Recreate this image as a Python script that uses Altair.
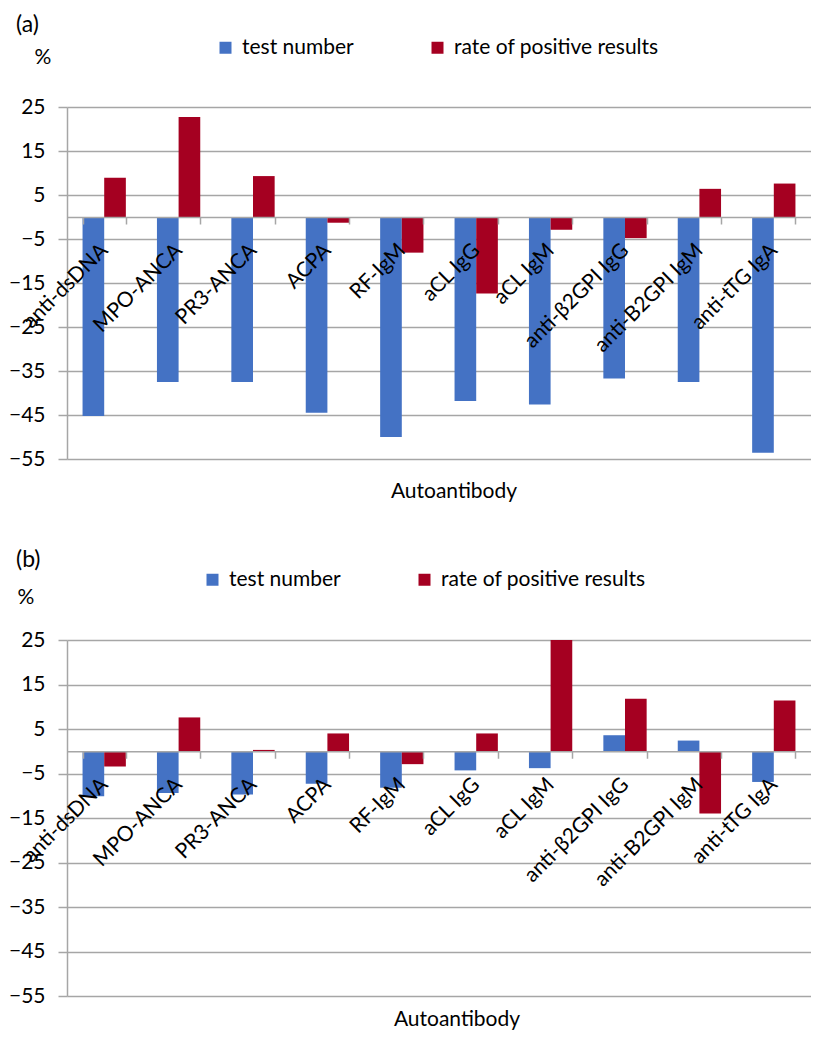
import altair as alt
import pandas as pd

categories = ["anti-dsDNA", "MPO-ANCA", "PR3-ANCA", "ACPA", "RF-IgM", "aCL IgG",
              "aCL IgM", "anti-β2GPI IgG", "anti-B2GPI IgM", "anti-tTG IgA"]
series_names = ["test number", "rate of positive results"]

a_test = [-45.2, -37.5, -37.5, -44.5, -50.0, -41.8, -42.6, -36.7, -37.5, -53.6]
a_rate = [8.9, 22.7, 9.3, -1.3, -8.1, -17.4, -2.9, -4.8, 6.4, 7.6]
b_test = [-10.1, -9.4, -9.7, -7.3, -8.2, -4.3, -3.8, 3.6, 2.4, -6.9]
b_rate = [-3.4, 7.6, 0.3, 4.0, -2.9, 4.0, 25.0, 11.8, -14.0, 11.4]

y_ticks = [-55, -45, -35, -25, -15, -5, 5, 15, 25]
colors = ["#4472C4", "#A50021"]
FONT = "Lato"
GRAY = "#A6A6A6"
FS = 21


def panel(test, rate, tag, width, height, extent, tag_x, tag_y, pct_x, pct_y,
          title_x, title_y, leg_x, leg_y):
    rows = []
    for c, t, r in zip(categories, test, rate):
        rows.append({"category": c, "series": series_names[0], "value": t})
        rows.append({"category": c, "series": series_names[1], "value": r})
    df = pd.DataFrame(rows)
    zero_px = height * 25 / 80.0

    bars = alt.Chart(df).mark_bar().encode(
        x=alt.X("category:N", sort=categories,
                scale=alt.Scale(paddingInner=0.418, paddingOuter=0.209),
                axis=alt.Axis(title=None, orient="bottom", offset=-(height - zero_px),
                              domainColor=GRAY, domainWidth=1.5, tickColor=GRAY,
                              tickWidth=1.5, tickSize=7, tickBand="extent",
                              labelAngle=-45, labelAlign="right", labelBaseline="middle",
                              labelPadding=23, labelFontSize=FS, labelFont=FONT,
                              labelColor="black", labelLimit=400, zindex=1, grid=False)),
        xOffset=alt.XOffset("series:N", sort=series_names,
                            scale=alt.Scale(paddingInner=0, paddingOuter=0)),
        y=alt.Y("value:Q",
                scale=alt.Scale(domain=[-55, 25], nice=False, zero=False),
                axis=alt.Axis(title=None, values=y_ticks, labelFontSize=FS,
                              labelFont=FONT, labelColor="black", labelPadding=13,
                              tickSize=9, tickColor=GRAY, tickWidth=1.5,
                              domainColor=GRAY, domainWidth=1.5, gridColor=GRAY,
                              gridWidth=1.5, minExtent=extent)),
        color=alt.Color("series:N", sort=series_names,
                        scale=alt.Scale(domain=series_names, range=colors),
                        legend=alt.Legend(title=None, orient="none", legendX=leg_x,
                                          legendY=leg_y, direction="horizontal",
                                          symbolType="square", symbolSize=144,
                                          symbolStrokeWidth=0, labelFontSize=FS,
                                          labelFont=FONT, labelColor="black",
                                          labelLimit=400, labelOffset=6,
                                          columnPadding=73)),
    )

    tag_text = alt.Chart(pd.DataFrame({"t": [tag]})).mark_text(
        font=FONT, fontSize=23, align="left", baseline="middle", color="black"
    ).encode(x=alt.value(tag_x), y=alt.value(tag_y), text="t:N")

    pct_text = alt.Chart(pd.DataFrame({"t": ["%"]})).mark_text(
        font=FONT, fontSize=FS, align="center", baseline="middle", color="black"
    ).encode(x=alt.value(pct_x), y=alt.value(pct_y), text="t:N")

    title_text = alt.Chart(pd.DataFrame({"t": ["Autoantibody"]})).mark_text(
        font=FONT, fontSize=FS, align="center", baseline="middle", color="black"
    ).encode(x=alt.value(title_x), y=alt.value(title_y), text="t:N")

    return alt.layer(bars, tag_text, pct_text, title_text).properties(
        width=width, height=height)


pa = panel(a_test, a_rate, "(a)", 744, 352, 56, -51, -82, -24, -49, 387, 385, 148, -70)
pb = panel(b_test, b_rate, "(b)", 744, 356, 56, -51, -80, -41, -42, 390, 380, 135, -71)

chart = alt.vconcat(pa, pb, spacing=47).resolve_scale(
    x="independent", y="independent", color="independent"
).properties(
    padding={"left": 0, "top": 6, "right": 0, "bottom": 0}
).configure_view(strokeWidth=0)

chart.save("out.html", embed_options={"renderer": "svg", "actions": False})
